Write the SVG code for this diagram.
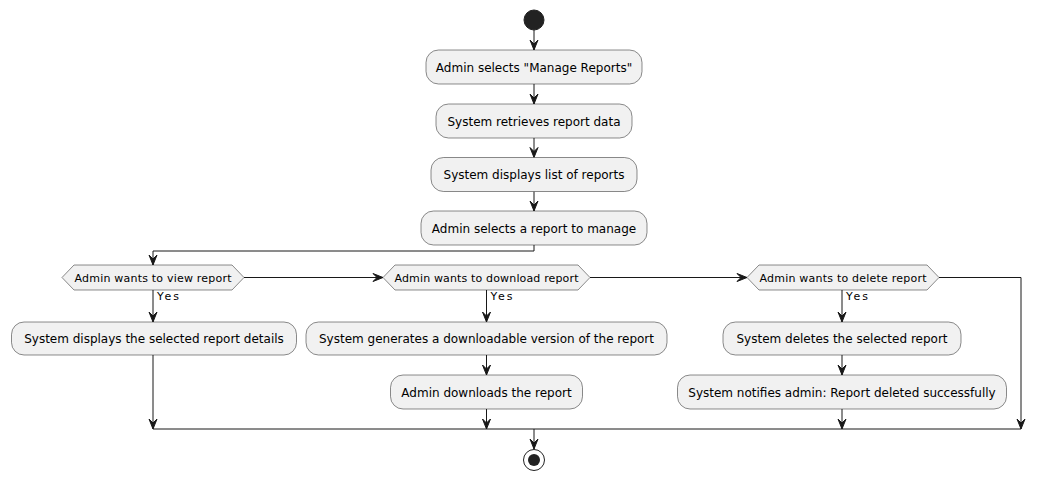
<svg xmlns="http://www.w3.org/2000/svg" width="1046" height="481" viewBox="0 0 1046 481">
<style>
.act{fill:#F1F1F1;stroke:#181818;stroke-width:0.5}
.t{font-family:"DejaVu Sans",sans-serif;font-size:12px;fill:#000;text-anchor:middle}
.d{font-family:"DejaVu Sans",sans-serif;font-size:11px;fill:#000;text-anchor:middle}
.y{font-family:"DejaVu Sans",sans-serif;font-size:11px;fill:#000}
.ln{fill:none;stroke:#181818;stroke-width:1}
.ah{fill:#181818;stroke:#181818;stroke-width:1}
</style>
<defs>
<path id="arr" class="ah" d="M-4,-10 L0,0 L4,-10 L0,-6 Z"/>
<path id="arrR" class="ah" d="M-10,-4 L0,0 L-10,4 L-6,0 Z"/>
</defs>
<rect width="1046" height="481" fill="#FFFFFF"/>

<g id="connectors">
<path class="ln" d="M534,30 V50"/><use href="#arr" x="534" y="50"/>
<path class="ln" d="M534,84 V104"/><use href="#arr" x="534" y="104"/>
<path class="ln" d="M534,138 V157.5"/><use href="#arr" x="534" y="157.5"/>
<path class="ln" d="M534,191.5 V211"/><use href="#arr" x="534" y="211"/>
<path class="ln" d="M534,245 V251 H153 V265"/><use href="#arr" x="153" y="265"/>
<path class="ln" d="M244,277.5 H383"/><use href="#arrR" x="383" y="277.5"/>
<path class="ln" d="M590,277.5 H747"/><use href="#arrR" x="747" y="277.5"/>
<path class="ln" d="M939,277.5 H1021 V429"/><use href="#arr" x="1021" y="429"/>
<path class="ln" d="M153,290 V322"/><use href="#arr" x="153" y="322"/>
<path class="ln" d="M486.5,290 V322"/><use href="#arr" x="486.5" y="322"/>
<path class="ln" d="M842,290 V322"/><use href="#arr" x="842" y="322"/>
<path class="ln" d="M153,355 V429"/><use href="#arr" x="153" y="429"/>
<path class="ln" d="M486.5,355 V375"/><use href="#arr" x="486.5" y="375"/>
<path class="ln" d="M842,355 V375"/><use href="#arr" x="842" y="375"/>
<path class="ln" d="M486.5,409 V429"/><use href="#arr" x="486.5" y="429"/>
<path class="ln" d="M842,409 V429"/><use href="#arr" x="842" y="429"/>
<path class="ln" d="M153,429 H1021"/>
<path class="ln" d="M534,429 V449"/><use href="#arr" x="534" y="449"/>
<text class="y" x="157" y="300" textLength="22" lengthAdjust="spacing">Yes</text>
<text class="y" x="490.5" y="300" textLength="22" lengthAdjust="spacing">Yes</text>
<text class="y" x="846" y="300" textLength="22" lengthAdjust="spacing">Yes</text>
</g>

<g id="start"><circle cx="534" cy="20" r="10" fill="#222222" stroke="#222222" stroke-width="1"/></g>

<g id="n1"><rect class="act" x="426" y="50" width="216" height="34" rx="12.5"/><text class="t" x="534" y="71.5">Admin selects "Manage Reports"</text></g>
<g id="n2"><rect class="act" x="436" y="104" width="196" height="34" rx="12.5"/><text class="t" x="534" y="125.5">System retrieves report data</text></g>
<g id="n3"><rect class="act" x="431" y="157.5" width="206" height="34" rx="12.5"/><text class="t" x="534" y="179">System displays list of reports</text></g>
<g id="n4"><rect class="act" x="421" y="211" width="226" height="34" rx="12.5"/><text class="t" x="534" y="232.5">Admin selects a report to manage</text></g>

<g id="d1"><polygon class="act" points="62,277.5 74,265 232,265 244,277.5 232,290 74,290"/><text class="d" x="153" y="281.5" textLength="157" lengthAdjust="spacing">Admin wants to view report</text></g>
<g id="d2"><polygon class="act" points="383,277.5 395,265 578,265 590,277.5 578,290 395,290"/><text class="d" x="486.5" y="281.5" textLength="184" lengthAdjust="spacing">Admin wants to download report</text></g>
<g id="d3"><polygon class="act" points="747,277.5 759,265 927,265 939,277.5 927,290 759,290"/><text class="d" x="843" y="281.5" textLength="167" lengthAdjust="spacing">Admin wants to delete report</text></g>

<g id="n5"><rect class="act" x="11.5" y="322" width="285" height="33" rx="12.5"/><text class="t" x="154" y="343">System displays the selected report details</text></g>
<g id="n6"><rect class="act" x="306" y="322" width="361" height="33" rx="12.5"/><text class="t" x="486.5" y="343">System generates a downloadable version of the report</text></g>
<g id="n7"><rect class="act" x="723" y="322" width="238" height="33" rx="12.5"/><text class="t" x="842" y="343">System deletes the selected report</text></g>
<g id="n8"><rect class="act" x="390.5" y="375" width="192" height="34" rx="12.5"/><text class="t" x="486.5" y="396.5">Admin downloads the report</text></g>
<g id="n9"><rect class="act" x="677.5" y="375" width="329" height="34" rx="12.5"/><text class="t" x="842" y="396.5">System notifies admin: Report deleted successfully</text></g>

<g id="end"><circle cx="534" cy="460" r="10.5" fill="none" stroke="#222222" stroke-width="1"/><circle cx="534" cy="460" r="6" fill="#222222"/></g>
</svg>
